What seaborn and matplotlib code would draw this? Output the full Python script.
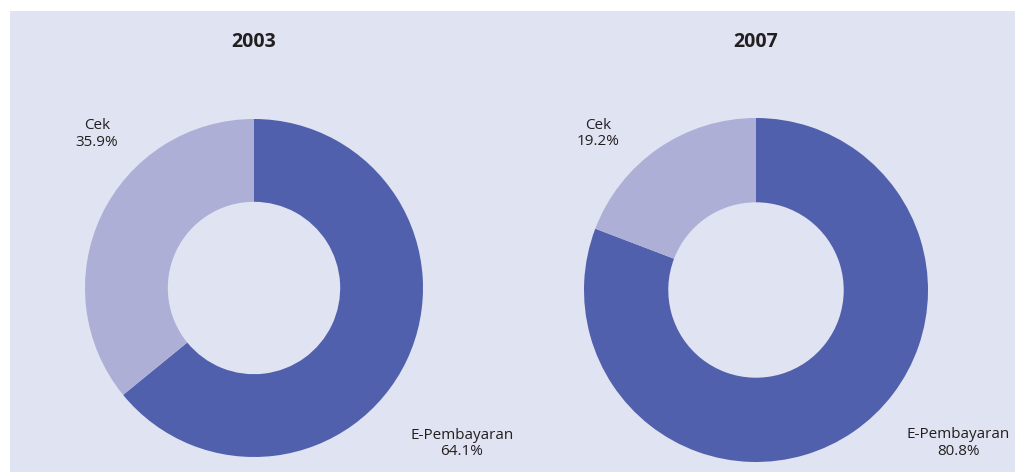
import matplotlib
matplotlib.use("Agg")
import matplotlib.pyplot as plt
import seaborn as sns
from matplotlib.patches import Rectangle

sns.set_theme(style="white")
plt.rcParams["font.family"] = ["Open Sans", "DejaVu Sans"]

# data
years = ["2003", "2007"]
categories = ["E-Pembayaran", "Cek"]
shares = {
    "2003": [64.1, 35.9],
    "2007": [80.8, 19.2],
}

colors = ["#5060ad", "#adafd6"]
bg = "#e0e3f1"
txt = "#231f20"

fig = plt.figure(figsize=(10.15, 4.72), dpi=100)
fig.patch.set_facecolor("white")
fig.add_artist(Rectangle((10 / 1015, 0), 1 - 10 / 1015, 1 - 11 / 472,
                         transform=fig.transFigure, facecolor=bg,
                         edgecolor="none", zorder=0))

# axes boxes (left, bottom, width, height) in figure fractions
boxes = [
    (85 / 1015, 15 / 472, 338 / 1015, 338 / 472),
    (584 / 1015, 10 / 472, 344 / 1015, 344 / 472),
]
# label anchors in pie-radius units
cek_pos = [(-0.93, 0.91), (-0.92, 0.91)]
epay_pos = [(1.23, -0.92), (1.175, -0.89)]
title_x = [254 / 1015, 756 / 1015]

for i, year in enumerate(years):
    ax = fig.add_axes(boxes[i])
    vals = shares[year]
    ax.pie(vals, colors=colors, startangle=90, counterclock=False,
           radius=1, wedgeprops=dict(width=0.49, edgecolor="none"))
    ax.set_xlim(-1, 1)
    ax.set_ylim(-1, 1)
    ax.set_aspect("equal")
    ax.axis("off")
    ax.set_facecolor("none")

    ax.text(*cek_pos[i], f"{categories[1]}\n{vals[1]:.1f}%", ha="center",
            va="center", fontsize=11, color=txt, linespacing=1.15,
            clip_on=False)
    ax.text(*epay_pos[i], f"{categories[0]}\n{vals[0]:.1f}%", ha="center",
            va="center", fontsize=11, color=txt, linespacing=1.15,
            clip_on=False)

    fig.text(title_x[i], 1 - 42 / 472, year, ha="center", va="center",
             fontsize=14, fontweight="bold", color=txt)

fig.savefig("out.png", dpi=100, facecolor=fig.get_facecolor())
plt.close(fig)
